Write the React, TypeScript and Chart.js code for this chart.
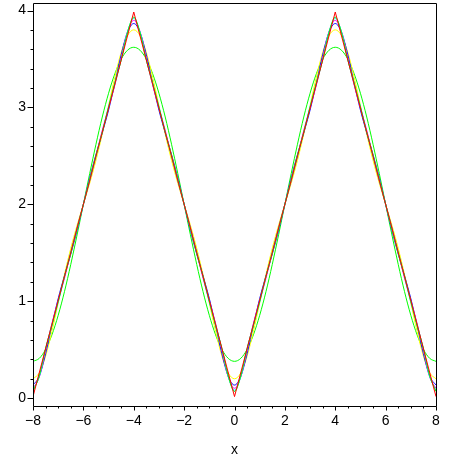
import React, { useEffect, useRef } from "react";
import { Chart, registerables } from "chart.js";
Chart.register(...registerables);

const X_VALUES = [-8,-7.75,-7.5,-7.25,-7,-6.75,-6.5,-6.25,-6,-5.75,-5.5,-5.25,-5,-4.75,-4.5,-4.25,-4,-3.75,-3.5,-3.25,-3,-2.75,-2.5,-2.25,-2,-1.75,-1.5,-1.25,-1,-0.75,-0.5,-0.25,0,0.25,0.5,0.75,1,1.25,1.5,1.75,2,2.25,2.5,2.75,3,3.25,3.5,3.75,4,4.25,4.5,4.75,5,5.25,5.5,5.75,6,6.25,6.5,6.75,7,7.25,7.5,7.75,8];

const RED_X = [-8, -4, 0, 4, 8];
const RED_Y = [0.015, 3.985, 0.015, 3.985, 0.015];

const GREEN1_Y = [0.379,0.410,0.502,0.652,0.854,1.099,1.380,1.684,2.000,2.316,2.620,2.901,3.146,3.348,3.498,3.590,3.621,
3.590,3.498,3.348,3.146,2.901,2.620,2.316,2.000,1.684,1.380,1.099,0.854,0.652,0.502,0.410,0.379,
0.410,0.502,0.652,0.854,1.099,1.380,1.684,2.000,2.316,2.620,2.901,3.146,3.348,3.498,3.590,3.621,
3.590,3.498,3.348,3.146,2.901,2.620,2.316,2.000,1.684,1.380,1.099,0.854,0.652,0.502,0.410,0.379];

const YELLOW_Y = [0.199,0.260,0.433,0.687,0.981,1.276,1.546,1.784,2.000,2.216,2.454,2.724,3.019,3.313,3.567,3.740,3.801,
3.740,3.567,3.313,3.019,2.724,2.454,2.216,2.000,1.784,1.546,1.276,0.981,0.687,0.433,0.260,0.199,
0.260,0.433,0.687,0.981,1.276,1.546,1.784,2.000,2.216,2.454,2.724,3.019,3.313,3.567,3.740,3.801,
3.740,3.567,3.313,3.019,2.724,2.454,2.216,2.000,1.784,1.546,1.276,0.981,0.687,0.433,0.260,0.199];

const BLUE_Y = [0.134,0.224,0.458,0.751,1.027,1.263,1.486,1.730,2.000,2.270,2.514,2.737,2.973,3.249,3.542,3.776,3.866,
3.776,3.542,3.249,2.973,2.737,2.514,2.270,2.000,1.730,1.486,1.263,1.027,0.751,0.458,0.224,0.134,
0.224,0.458,0.751,1.027,1.263,1.486,1.730,2.000,2.270,2.514,2.737,2.973,3.249,3.542,3.776,3.866,
3.776,3.542,3.249,2.973,2.737,2.514,2.270,2.000,1.730,1.486,1.263,1.027,0.751,0.458,0.224,0.134];

const MAGENTA_Y = [0.101,0.218,0.489,0.769,1.003,1.236,1.499,1.762,2.000,2.238,2.501,2.764,2.997,3.231,3.511,3.782,3.899,
3.782,3.511,3.231,2.997,2.764,2.501,2.238,2.000,1.762,1.499,1.236,1.003,0.769,0.489,0.218,0.101,
0.218,0.489,0.769,1.003,1.236,1.499,1.762,2.000,2.238,2.501,2.764,2.997,3.231,3.511,3.782,3.899,
3.782,3.511,3.231,2.997,2.764,2.501,2.238,2.000,1.762,1.499,1.236,1.003,0.769,0.489,0.218,0.101];

const CYAN_Y = [0.081,0.222,0.507,0.758,0.989,1.253,1.506,1.743,2.000,2.257,2.494,2.747,3.011,3.242,3.493,3.778,3.919,
3.778,3.493,3.242,3.011,2.747,2.494,2.257,2.000,1.743,1.506,1.253,0.989,0.758,0.507,0.222,0.081,
0.222,0.507,0.758,0.989,1.253,1.506,1.743,2.000,2.257,2.494,2.747,3.011,3.242,3.493,3.778,3.919,
3.778,3.493,3.242,3.011,2.747,2.494,2.257,2.000,1.743,1.506,1.253,0.989,0.758,0.507,0.222,0.081];

const GREEN6_Y = [0.068,0.229,0.512,0.745,0.998,1.256,1.494,1.754,2.000,2.246,2.506,2.744,3.002,3.255,3.488,3.771,3.932,
3.771,3.488,3.255,3.002,2.744,2.506,2.246,2.000,1.754,1.494,1.256,0.998,0.745,0.512,0.229,0.068,
0.229,0.512,0.745,0.998,1.256,1.494,1.754,2.000,2.246,2.506,2.744,3.002,3.255,3.488,3.771,3.932,
3.771,3.488,3.255,3.002,2.744,2.506,2.246,2.000,1.754,1.494,1.256,0.998,0.745,0.512,0.229,0.068];

const X_TICKS = [-8, -6, -4, -2, 0, 2, 4, 6, 8];
const Y_TICKS = [0, 1, 2, 3, 4];
const X_MINOR_STEP = 0.5;
const Y_MINOR_STEP = 0.2;

const FONT = { family: "'Liberation Sans', Arial, sans-serif", size: 14 };

const framePlugin = {
  id: "frame",
  afterDraw(chart: any) {
    const { ctx, chartArea, scales } = chart;
    const xs = scales.x, ys = scales.y;
    const L = Math.round(chartArea.left) + 0.5;
    const R = Math.round(chartArea.right) + 0.5;
    const T = Math.round(chartArea.top) + 0.5;
    const B = Math.round(chartArea.bottom) + 0.5;
    ctx.save();
    ctx.strokeStyle = "#000";
    ctx.lineWidth = 1;
    ctx.beginPath();
    ctx.rect(L, T, R - L, B - T);
    const nx = Math.round((xs.max - xs.min) / X_MINOR_STEP);
    for (let i = 0; i <= nx; i++) {
      const v = xs.min + i * X_MINOR_STEP;
      const px = Math.round(xs.getPixelForValue(v)) + 0.5;
      const major = X_TICKS.some((t) => Math.abs(t - v) < 1e-6);
      ctx.moveTo(px, B);
      ctx.lineTo(px, B + (major ? 4 : 2));
    }
    for (let i = 0; i <= 20; i++) {
      const v = i * Y_MINOR_STEP;
      const py = Math.round(ys.getPixelForValue(v)) + 0.5;
      const major = Y_TICKS.some((t) => Math.abs(t - v) < 1e-6);
      ctx.moveTo(L, py);
      ctx.lineTo(L - (major ? 6 : 3), py);
    }
    ctx.stroke();
    ctx.restore();
  },
};

function toPoints(xv: number[], yv: number[]) {
  return xv.map((x, i) => ({ x, y: yv[i] }));
}

export default function App() {
  const ref = useRef<HTMLCanvasElement | null>(null);
  useEffect(() => {
    if (!ref.current) return;
    const smooth = (label: string, color: string, yv: number[]) => ({
      label,
      data: toPoints(X_VALUES, yv),
      borderColor: color,
      borderWidth: 1,
      pointRadius: 0,
      fill: false,
      cubicInterpolationMode: "monotone" as const,
    });
    const chart = new Chart(ref.current, {
      type: "line",
      data: {
        datasets: [
          { label: "f", data: toPoints(RED_X, RED_Y), borderColor: "#ff0000", borderWidth: 1, pointRadius: 0, fill: false, tension: 0 },
          smooth("S6", "#00ff00", GREEN6_Y),
          smooth("S5", "#00ffff", CYAN_Y),
          smooth("S4", "#ff00ff", MAGENTA_Y),
          smooth("S3", "#0000ff", BLUE_Y),
          smooth("S2", "#ffff00", YELLOW_Y),
          smooth("S1", "#00ff00", GREEN1_Y),
        ],
      },
      options: {
        animation: false,
        responsive: false,
        devicePixelRatio: 1,
        layout: { padding: { top: 3, right: 23, left: 0, bottom: 0 } },
        plugins: { legend: { display: false }, tooltip: { enabled: false } },
        scales: {
          x: {
            type: "linear",
            min: -8,
            max: 8,
            afterBuildTicks: (s: any) => { s.ticks = X_TICKS.map((v) => ({ value: v })); },
            afterFit: (s: any) => { s.height = 53; s.paddingLeft = 0; s.paddingRight = 0; s.paddingTop = 0; s.paddingBottom = 0; },
            grid: { display: false, drawTicks: false },
            border: { display: false },
            ticks: {
              font: FONT,
              color: "#000",
              padding: 7,
              maxRotation: 0,
              autoSkip: false,
              callback: (v: any) => (Number(v) < 0 ? "\u2212" + Math.abs(Number(v)) : String(v)),
            },
            title: { display: true, text: "x", font: FONT, color: "#000", padding: 0 },
          },
          y: {
            type: "linear",
            min: -0.082,
            max: 4.078,
            afterBuildTicks: (s: any) => { s.ticks = Y_TICKS.map((v) => ({ value: v })); },
            afterFit: (s: any) => { s.width = 33; s.paddingLeft = 0; s.paddingRight = 0; s.paddingTop = 0; s.paddingBottom = 0; },
            grid: { display: false, drawTicks: false },
            border: { display: false },
            ticks: { font: FONT, color: "#000", padding: 7, callback: (v: any) => String(v) },
          },
        },
      },
      plugins: [framePlugin],
    });
    return () => chart.destroy();
  }, []);
  return (
    <div style={{ position: "absolute", left: 0, top: 0, width: 459, height: 459, background: "#fff" }}>
      <canvas ref={ref} width={459} height={459} />
    </div>
  );
}
